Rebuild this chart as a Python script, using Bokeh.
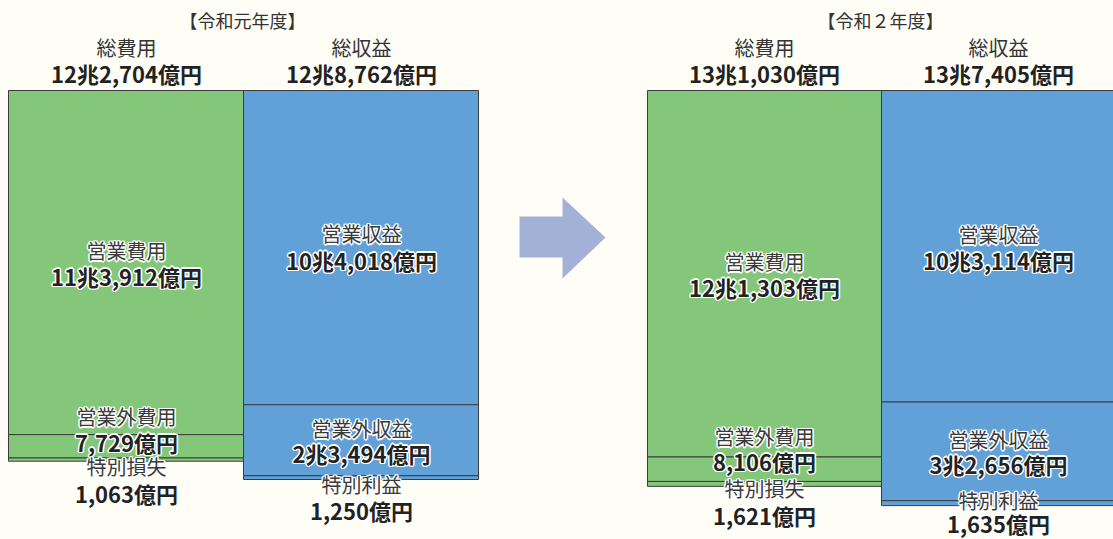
from bokeh.plotting import figure
from bokeh.models import Range1d, ColumnDataSource
from bokeh.embed import file_html
from bokeh.resources import INLINE
from bokeh.core.properties import value

# ---------------- data (億円) ----------------
years = ["【令和元年度】", "【令和２年度】"]
exp_categories = ["営業費用", "営業外費用", "特別損失"]
rev_categories = ["営業収益", "営業外収益", "特別利益"]
exp_r1 = [113912, 7729, 1063]
rev_r1 = [104018, 23494, 1250]
exp_r2 = [121303, 8106, 1621]
rev_r2 = [103114, 32656, 1635]
total_exp_label = "総費用"
total_rev_label = "総収益"

# ---------------- layout ----------------
W, H = 1113, 539
PX_PER = 1 / 331.0          # pixels per 億円
BAR_TOP = 90                 # screen y of value 0
FONT = value("Noto Sans CJK JP")
GREEN = "#85C77A"
BLUE = "#62A1D8"
EDGE = "#3c3c3c"
BG = "#FFFEF6"

def fmt(v):
    cho, oku = divmod(v, 10000)
    s = f"{oku:,}億円"
    return f"{cho}兆{s}" if cho else s

p = figure(width=W, height=H, output_backend="svg", toolbar_location=None,
           x_range=Range1d(0, W),
           y_range=Range1d((H - BAR_TOP) / PX_PER, -BAR_TOP / PX_PER),
           min_border=0)
p.extra_y_ranges = {"px": Range1d(H, 0)}
p.axis.visible = False
p.grid.visible = False
p.outline_line_color = None
p.background_fill_color = BG
p.border_fill_color = BG

# column extents (screen x)
cols = [
    (exp_r1, GREEN, 8, 243),
    (rev_r1, BLUE, 243, 478),
    (exp_r2, GREEN, 647, 881),
    (rev_r2, BLUE, 881, 1116),
]
for vals, color, x0, x1 in cols:
    bottoms, tops = [], []
    acc = 0
    for v in vals:
        tops.append(acc)
        acc += v
        bottoms.append(acc)
    src = ColumnDataSource(dict(left=[x0] * len(vals), right=[x1] * len(vals),
                                top=tops, bottom=bottoms))
    p.quad(left="left", right="right", top="top", bottom="bottom", source=src,
           fill_color=color, line_color=EDGE, line_width=1)

# arrow
p.patch([519, 562, 562, 605, 562, 562, 519], [216, 216, 197, 237, 278, 257, 257],
        y_range_name="px", fill_color="#A3B1D6", line_color=None)

def txt(x, y, s, size, bold=False, color="#333333", halo=False):
    style = "bold" if bold else "normal"
    if halo:
        for dx, dy in [(-1.5, 0), (1.5, 0), (0, -1.5), (0, 1.5),
                       (-1, -1), (1, 1), (-1, 1), (1, -1)]:
            p.text(x=[x], y=[y], text=[s], y_range_name="px", x_offset=dx, y_offset=dy,
                   text_font=FONT, text_font_size=f"{size}px", text_font_style=style,
                   text_color="white", text_align="center", text_baseline="middle")
    p.text(x=[x], y=[y], text=[s], y_range_name="px",
           text_font=FONT, text_font_size=f"{size}px", text_font_style=style,
           text_color=color, text_align="center", text_baseline="middle")

# headers
title_x = [242, 880]
exp_x = [126, 764]
rev_x = [361, 998]
for i, (exps, revs) in enumerate([(exp_r1, rev_r1), (exp_r2, rev_r2)]):
    txt(title_x[i], 19, years[i], 18)
    txt(exp_x[i], 47, total_exp_label, 20)
    txt(rev_x[i], 47, total_rev_label, 20)
    txt(exp_x[i], 72, fmt(sum(exps)), 22, bold=True, color="#222222")
    txt(rev_x[i], 72, fmt(sum(revs)), 22, bold=True, color="#222222")

# segment labels: (name y, value y) screen positions
label_y = [
    [(250, 275), (416, 441), (466, 492)],   # exp r1
    [(233, 259), (428, 452), (484, 509)],   # rev r1
    [(261, 286), (436, 460), (488, 514)],   # exp r2
    [(234, 259), (439, 463), (500, 522)],   # rev r2
]
col_cats = [exp_categories, rev_categories, exp_categories, rev_categories]
col_x = [126, 361, 764, 998]
for ci, (vals, _, _, _) in enumerate(cols):
    for k, v in enumerate(vals):
        ny, vy = label_y[ci][k]
        txt(col_x[ci], ny, col_cats[ci][k], 20, color="#3a3a3a", halo=True)
        txt(col_x[ci], vy, fmt(v), 22, bold=True, color="#222222", halo=True)

html = file_html(p, INLINE)
html = html.replace("<body>", f'<body style="background:{BG}">', 1)
open("out.html", "w").write(html)
